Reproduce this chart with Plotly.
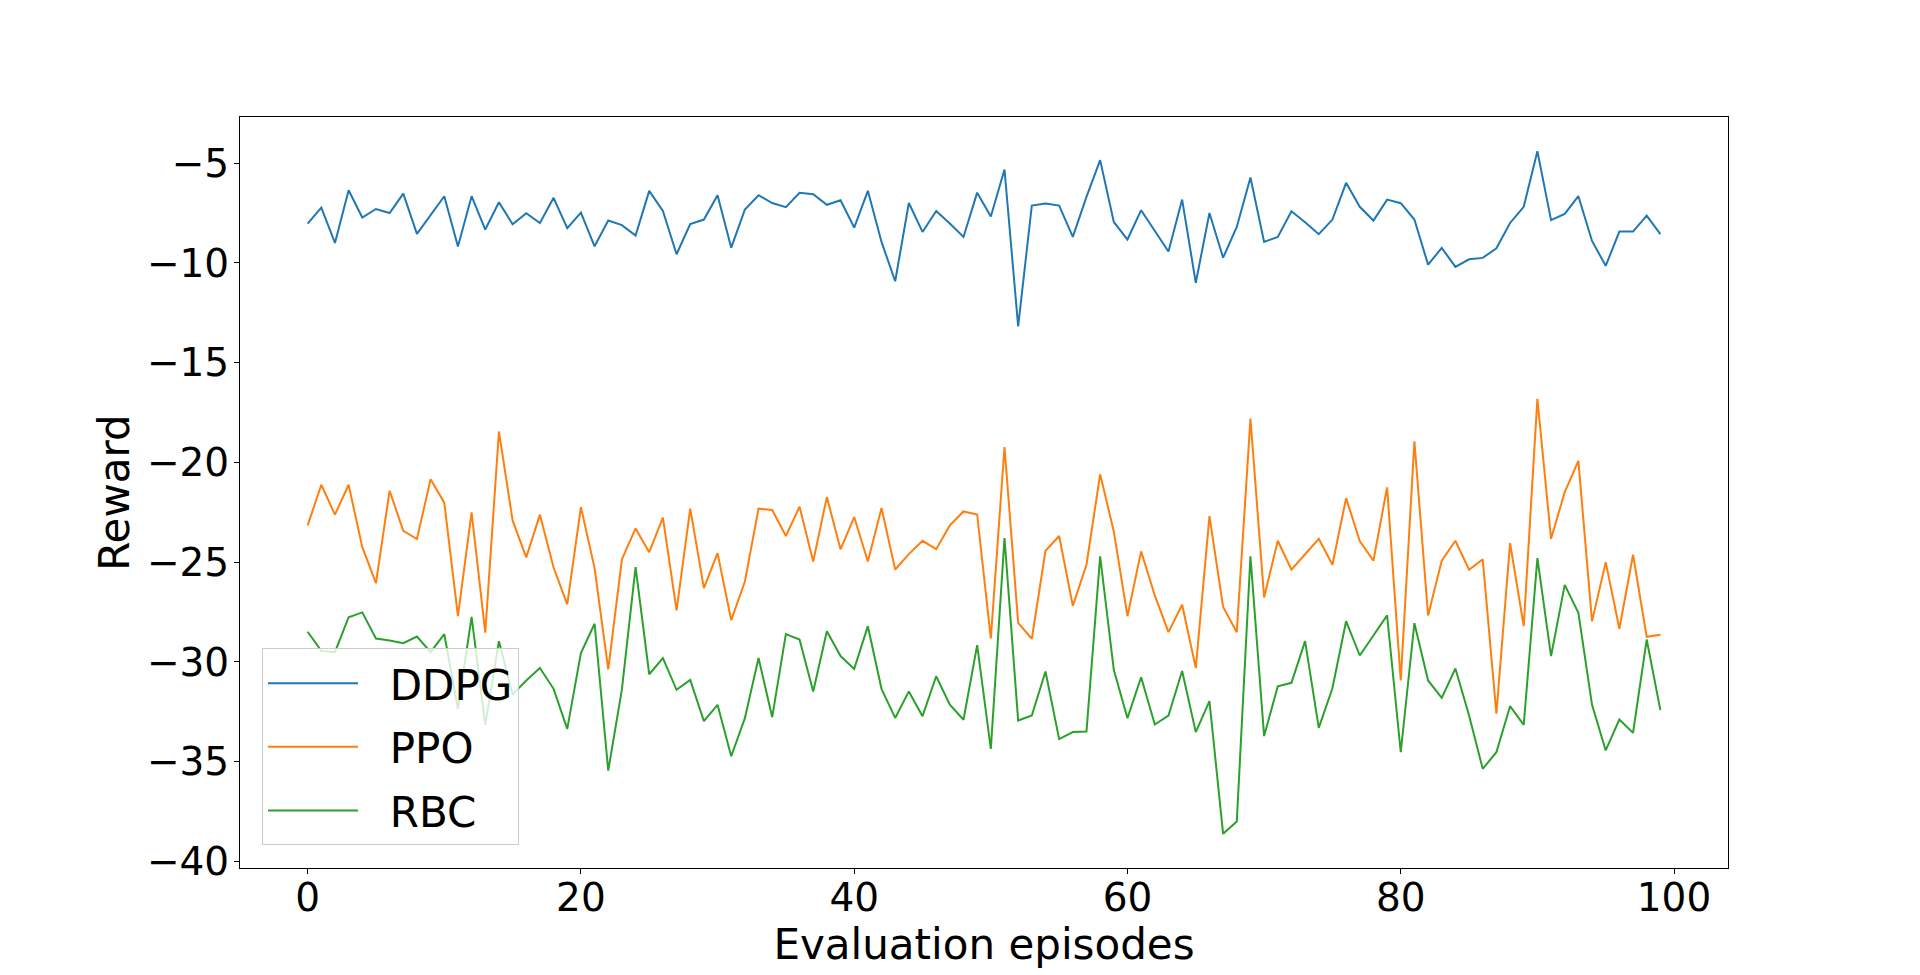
import plotly.graph_objects as go

episodes = list(range(100))

ddpg = [-8.03, -7.23, -9.00, -6.36, -7.73, -7.30, -7.50, -6.53, -8.55, -7.60,
        -6.66, -9.18, -6.66, -8.33, -6.96, -8.06, -7.51, -8.00, -6.74, -8.26,
        -7.48, -9.17, -7.88, -8.11, -8.63, -6.39, -7.40, -9.57, -8.06, -7.83,
        -6.61, -9.24, -7.33, -6.61, -7.00, -7.21, -6.49, -6.56, -7.09, -6.86,
        -8.23, -6.39, -8.95, -10.92, -7.00, -8.45, -7.40, -8.03, -8.70, -6.48,
        -7.68, -5.32, -13.18, -7.13, -7.03, -7.13, -8.70, -6.69, -4.85, -7.95,
        -8.83, -7.36, -8.43, -9.43, -6.83, -11.00, -7.50, -9.74, -8.20, -5.72,
        -8.95, -8.70, -7.41, -7.96, -8.56, -7.83, -5.99, -7.19, -7.88, -6.83,
        -7.01, -7.83, -10.09, -9.25, -10.20, -9.82, -9.75, -9.27, -8.00, -7.19,
        -4.40, -7.86, -7.55, -6.66, -8.90, -10.15, -8.43, -8.43, -7.63, -8.56]

ppo = [-23.16, -21.12, -22.62, -21.12, -24.25, -26.05, -21.42, -23.43, -23.84, -20.84,
       -22.02, -27.71, -22.51, -28.54, -18.45, -22.91, -24.76, -22.62, -25.27, -27.12,
       -22.24, -25.30, -30.38, -24.86, -23.31, -24.50, -22.77, -27.42, -22.32, -26.30,
       -24.55, -27.91, -25.97, -22.32, -22.39, -23.69, -22.22, -24.97, -21.74, -24.36,
       -22.74, -24.97, -22.29, -25.37, -24.60, -23.93, -24.35, -23.16, -22.46, -22.61,
       -28.83, -19.23, -28.04, -28.84, -24.43, -23.69, -27.19, -25.13, -20.60, -23.46,
       -27.71, -24.46, -26.67, -28.51, -27.14, -30.31, -22.69, -27.25, -28.51, -17.81,
       -26.77, -23.93, -25.38, -24.60, -23.83, -25.13, -21.79, -23.94, -24.93, -21.25,
       -30.93, -18.95, -27.67, -24.93, -23.93, -25.38, -24.86, -32.60, -24.05, -28.21,
       -16.81, -23.83, -21.49, -19.92, -27.97, -25.00, -28.34, -24.63, -28.74, -28.64]

rbc = [-28.49, -29.45, -29.51, -27.76, -27.52, -28.83, -28.93, -29.06, -28.73, -29.51,
       -28.61, -32.35, -27.74, -33.16, -28.96, -31.63, -30.93, -30.31, -31.35, -33.36,
       -29.56, -28.09, -35.45, -31.38, -25.25, -30.62, -29.81, -31.40, -30.90, -32.97,
       -32.15, -34.73, -32.82, -29.81, -32.77, -28.61, -28.88, -31.48, -28.46, -29.71,
       -30.35, -28.21, -31.35, -32.81, -31.48, -32.72, -30.72, -32.15, -32.90, -29.16,
       -34.36, -23.79, -32.94, -32.69, -30.48, -33.87, -33.52, -33.49, -24.71, -30.40,
       -32.82, -30.77, -33.14, -32.69, -30.46, -33.52, -31.97, -38.62, -38.00, -24.71,
       -33.72, -31.22, -31.05, -28.96, -33.31, -31.32, -27.96, -29.68, -28.68, -27.67,
       -34.53, -28.06, -30.93, -31.80, -30.33, -32.69, -35.36, -34.53, -32.22, -33.16,
       -24.80, -29.71, -26.14, -27.54, -32.15, -34.44, -32.89, -33.56, -28.88, -32.42]

series_names = ["DDPG", "PPO", "RBC"]
series_colors = ["#1f77b4", "#ff7f0e", "#2ca02c"]
x_ticks = [0, 20, 40, 60, 80, 100]
y_ticks = [-40, -35, -30, -25, -20, -15, -10, -5]

fig = go.Figure()
for name, vals, col in zip(series_names, [ddpg, ppo, rbc], series_colors):
    fig.add_trace(go.Scatter(x=episodes, y=vals, mode="lines",
                             name="\u00a0\u00a0" + name,
                             legendgroup=name,
                             line=dict(color=col, width=2)))

all_vals = ddpg + ppo + rbc
ymin, ymax = min(all_vals), max(all_vals)
ypad = 0.05 * (ymax - ymin)
xpad = 0.05 * (episodes[-1] - episodes[0])

font = "DejaVu Sans, Arial, sans-serif"
fig.update_layout(
    width=1920, height=975,
    margin=dict(l=232, r=200, t=109, b=115, pad=0),
    paper_bgcolor="white", plot_bgcolor="white",
    font=dict(family=font, size=39, color="black"),
    showlegend=True,
    legend=dict(
        x=0.0148, y=0.03, xanchor="left", yanchor="bottom",
        bgcolor="rgba(255,255,255,0.8)", bordercolor="#cccccc", borderwidth=1,
        font=dict(size=42, family=font, color="black"),
        itemwidth=90, tracegroupgap=6,
    ),
    xaxis=dict(
        range=[episodes[0] - xpad, episodes[-1] + xpad],
        tickvals=x_ticks, ticks="outside", ticklen=5, tickwidth=1, tickcolor="black",
        showline=True, linecolor="black", linewidth=1, mirror=True,
        showgrid=False, zeroline=False,
        ticklabelstandoff=-10,
        tickfont=dict(size=39, family=font),
        title=dict(text="Evaluation episodes", font=dict(size=42, family=font), standoff=4),
    ),
    yaxis=dict(
        range=[ymin - ypad, ymax + ypad],
        tickvals=y_ticks, ticks="outside", ticklen=5, tickwidth=1, tickcolor="black",
        showline=True, linecolor="black", linewidth=1, mirror=True,
        showgrid=False, zeroline=False,
        ticklabelstandoff=-3,
        tickfont=dict(size=39, family=font),
        title=dict(text="Reward", font=dict(size=42, family=font), standoff=4),
    ),
)

fig.write_html("out.html")
